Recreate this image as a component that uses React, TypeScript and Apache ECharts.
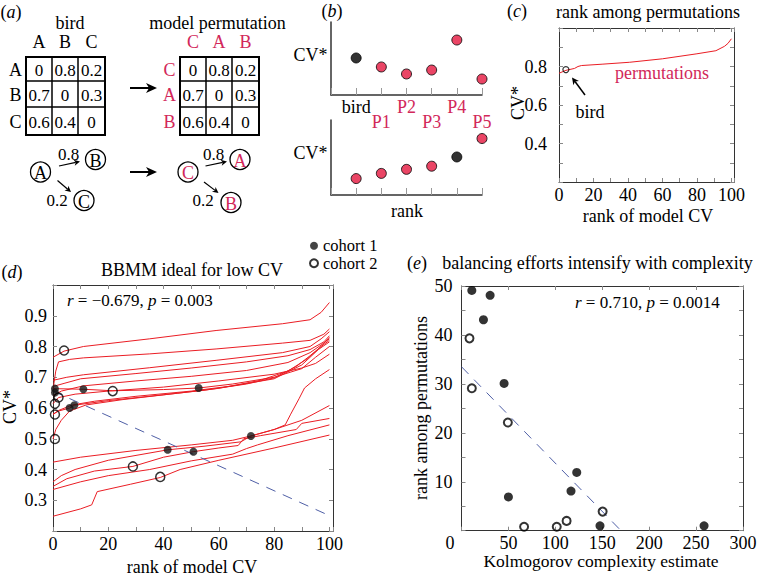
import React, { useEffect, useRef } from 'react';
import * as echarts from 'echarts';

const FONT = 'Liberation Serif';
const RED_TEXT = '#d2285a';
const RED_FILL = '#e5173f';
const RED_LINE = '#ea1d24';
const BLUE = '#4f5fa6';

// ---------- (a) ----------
const birdLabels = ['A', 'B', 'C'];
const permLabels = ['C', 'A', 'B'];
const transMatrix = [
  [0, 0.8, 0.2],
  [0.7, 0, 0.3],
  [0.6, 0.4, 0],
];
const edgeProbs = [0.8, 0.2];

// ---------- (b) ----------
const bLabels = ['bird', 'P1', 'P2', 'P3', 'P4', 'P5'];
const bCV = [5.07, 3.84, 2.88, 3.42, 7.53, 2.19];

// ---------- (c) ----------
const cPerm = [
  [0, 0.765], [4, 0.78], [9, 0.79], [11, 0.8], [13, 0.805], [25, 0.812], [41, 0.822],
  [60, 0.84], [80, 0.866], [91, 0.882], [96, 0.905], [98, 0.92], [100, 0.944],
];
const cBird = [[4, 0.784]];

// ---------- (d) ----------
const dLines = [
  [[0, 0.765], [4, 0.785], [11, 0.8], [35, 0.825], [59, 0.852], [83, 0.874], [93, 0.887], [97, 0.911], [100, 0.943]],
  [[0, 0.66], [1, 0.72], [2, 0.75], [6, 0.758], [11, 0.763], [35, 0.776], [59, 0.792], [83, 0.811], [93, 0.82], [98, 0.84], [100, 0.857]],
  [[0, 0.69], [5, 0.7], [11, 0.708], [35, 0.731], [59, 0.755], [83, 0.78], [93, 0.8], [97, 0.825], [100, 0.848]],
  [[0, 0.67], [4, 0.68], [10, 0.695], [30, 0.712], [50, 0.73], [70, 0.75], [85, 0.77], [93, 0.79], [98, 0.815], [100, 0.835]],
  [[0, 0.64], [3, 0.655], [11, 0.672], [30, 0.688], [50, 0.703], [70, 0.722], [85, 0.748], [93, 0.78], [97, 0.805], [100, 0.825]],
  [[0, 0.663], [11, 0.661], [21.6, 0.656], [40, 0.66], [52.7, 0.665], [65, 0.678], [80, 0.7], [90, 0.728], [95, 0.765], [100, 0.8]],
  [[0, 0.58], [2, 0.59], [6, 0.6], [7.7, 0.609], [20, 0.624], [40, 0.643], [55, 0.658], [70, 0.678], [80, 0.698], [88, 0.735], [93, 0.77], [97, 0.8], [100, 0.82]],
  [[0, 0.499], [1, 0.53], [3, 0.56], [6, 0.59], [12, 0.61], [25, 0.627], [45, 0.648], [60, 0.664], [75, 0.69], [85, 0.72], [92, 0.76], [97, 0.8], [100, 0.83]],
  [[0, 0.579], [2, 0.592], [7, 0.61], [15, 0.622], [30, 0.638], [50, 0.655], [65, 0.672], [80, 0.695], [90, 0.74], [96, 0.79], [100, 0.815]],
  [[0, 0.614], [2, 0.634], [8, 0.645], [20, 0.655], [40, 0.668], [60, 0.688], [80, 0.71], [90, 0.73], [95, 0.745], [100, 0.775]],
  [[0, 0.424], [10, 0.44], [30, 0.462], [50, 0.48], [65, 0.495], [72, 0.51], [80, 0.53], [84, 0.545], [86, 0.58], [89, 0.63], [91, 0.665], [95, 0.695], [100, 0.725]],
  [[0, 0.36], [3, 0.38], [8, 0.4], [20, 0.43], [41.5, 0.464], [55, 0.476], [68, 0.49], [71.6, 0.509], [80, 0.53], [90, 0.56], [100, 0.608]],
  [[0, 0.345], [5, 0.37], [15, 0.395], [28.9, 0.41], [40, 0.44], [50.8, 0.458], [60, 0.47], [67, 0.478], [69, 0.5], [75, 0.51], [88, 0.53], [90, 0.55], [100, 0.566]],
  [[0, 0.335], [10, 0.36], [20, 0.38], [35, 0.4], [50, 0.428], [65, 0.45], [70, 0.468], [74, 0.48], [85, 0.51], [100, 0.545]],
  [[0, 0.248], [10, 0.272], [14, 0.285], [16, 0.328], [28, 0.352], [38.8, 0.374], [46, 0.4], [60, 0.43], [80, 0.47], [100, 0.512]],
];
const dFit = [[0, 0.655], [100, 0.25]];
const dCohort1 = [[0.7, 0.663], [0.7, 0.65], [6, 0.6], [7.7, 0.609], [11, 0.661], [52.7, 0.665], [41.5, 0.464], [50.8, 0.458], [71.6, 0.509]];
const dCohort2 = [[4, 0.787], [2, 0.634], [0.7, 0.614], [0.7, 0.579], [0.7, 0.499], [21.6, 0.655], [28.9, 0.41], [38.8, 0.376]];

// ---------- (e) ----------
const eCohort1 = [[11, 49.1], [30.5, 48.1], [23.4, 43.1], [45.4, 30.1], [50, 6.9], [122.8, 11.9], [116.7, 8.1], [147.6, 1], [258.5, 1]];
const eCohort2 = [[8.5, 39.3], [11, 29.1], [49.4, 22.1], [66.7, 0.8], [101.5, 0.8], [112, 2], [150.4, 3.9]];
const eFit = [[0, 33.5], [170, 0]];

// ---------- helpers ----------
const italicRich = (size: number) => ({ i: { fontStyle: 'italic', fontFamily: FONT, fontSize: size, fill: '#000' } });

const txt = (text: string, x: number, y: number, o: any = {}) => ({
  type: 'text',
  x,
  y,
  rotation: o.rotation || 0,
  silent: true,
  style: {
    text,
    fontFamily: FONT,
    fontSize: o.size || 18,
    fill: o.color || '#000',
    align: o.align || 'center',
    verticalAlign: 'middle',
    rich: o.rich,
  },
});

function arrow(x1: number, y1: number, x2: number, y2: number, len: number, half: number, width: number, color = '#000') {
  const dx = x2 - x1, dy = y2 - y1;
  const L = Math.hypot(dx, dy);
  const ux = dx / L, uy = dy / L;
  const bx = x2 - ux * len, by = y2 - uy * len;
  const px = -uy, py = ux;
  const nx = x2 - ux * len * 0.72, ny = y2 - uy * len * 0.72;
  return [
    { type: 'line', silent: true, shape: { x1, y1, x2: nx, y2: ny }, style: { stroke: color, lineWidth: width } },
    {
      type: 'polygon', silent: true,
      shape: { points: [[x2, y2], [bx + px * half, by + py * half], [nx, ny], [bx - px * half, by - py * half]] },
      style: { fill: color },
    },
  ];
}

function matrix(x0: number, cols: string[], rows: string[], labelColor: string) {
  const widths = [26, 26, 27];
  const xs = [x0, x0 + widths[0], x0 + widths[0] + widths[1], x0 + widths[0] + widths[1] + widths[2]];
  const ys = [57, 81, 107, 135];
  const els: any[] = [];
  els.push({ type: 'rect', silent: true, shape: { x: xs[0], y: ys[0], width: xs[3] - xs[0], height: ys[3] - ys[0] }, style: { fill: 'none', stroke: '#000', lineWidth: 2 } });
  for (let k = 1; k < 3; k++) {
    els.push({ type: 'line', silent: true, shape: { x1: xs[k], y1: ys[0], x2: xs[k], y2: ys[3] }, style: { stroke: '#000', lineWidth: 1.5 } });
    els.push({ type: 'line', silent: true, shape: { x1: xs[0], y1: ys[k], x2: xs[3], y2: ys[k] }, style: { stroke: '#000', lineWidth: 1.5 } });
  }
  for (let c = 0; c < 3; c++) {
    const cx = (xs[c] + xs[c + 1]) / 2;
    els.push(txt(cols[c], cx, 42, { color: labelColor }));
  }
  for (let r = 0; r < 3; r++) {
    const cy = (ys[r] + ys[r + 1]) / 2 + 1;
    els.push(txt(rows[r], x0 - 10.5, cy, { color: labelColor }));
    for (let c = 0; c < 3; c++) {
      const cx = (xs[c] + xs[c + 1]) / 2;
      els.push(txt(String(transMatrix[r][c]), cx, cy, { size: 17 }));
    }
  }
  return els;
}

function node(label: string, cx: number, cy: number, color: string) {
  return [
    { type: 'circle', silent: true, shape: { cx, cy, r: 10 }, style: { fill: 'none', stroke: '#000', lineWidth: 1.3 } },
    txt(label, cx, cy + 1, { color }),
  ];
}

const axisText = { fontFamily: FONT, fontSize: 18, color: '#000' };
const frame = (show = true) => ({ show, onZero: false, lineStyle: { color: '#333', width: 1 } });
const tickIn = (len = 4) => ({ show: true, inside: true, length: len, lineStyle: { color: '#888', width: 1 } });
const noSplit = { show: false };

function mirrorX(gridIndex: number, min: number, max: number, interval: number) {
  return { gridIndex, type: 'value', position: 'top', min, max, interval, axisLine: frame(), axisTick: tickIn(), axisLabel: { show: false }, splitLine: noSplit };
}
function mirrorY(gridIndex: number, min: number, max: number, interval: number) {
  return { gridIndex, type: 'value', position: 'right', min, max, interval, axisLine: frame(), axisTick: tickIn(), axisLabel: { show: false }, splitLine: noSplit };
}

export default function App() {
  const ref = useRef<HTMLDivElement>(null);

  useEffect(() => {
    if (!ref.current) return;
    const chart = echarts.init(ref.current, undefined, { renderer: 'svg' });

    const bOrder = bCV.map((_, i) => i).sort((a, b) => bCV[a] - bCV[b]);

    const bLabelFormatter = (even: boolean) => (v: number) => {
      const i = Math.round(v) - 1;
      if (i < 0 || i > 5 || Math.abs(v - Math.round(v)) > 1e-6) return '';
      if ((i % 2 === 0) !== even) return '';
      return i === 0 ? `{k|${bLabels[i]}}` : `{r|${bLabels[i]}}`;
    };
    const bRich = {
      k: { color: '#000', fontFamily: FONT, fontSize: 18, lineHeight: 18 },
      r: { color: RED_TEXT, fontFamily: FONT, fontSize: 18, lineHeight: 18 },
    };

    const graphic: any[] = [
      // panel labels
      txt('({i|a})', 11, 12, { rich: italicRich(18) }),
      txt('({i|b})', 332, 11, { rich: italicRich(18) }),
      txt('({i|c})', 517, 11, { rich: italicRich(18) }),
      txt('({i|d})', 12, 272, { rich: italicRich(18) }),
      txt('({i|e})', 417, 263, { rich: italicRich(18) }),
      // (a)
      txt('bird', 70, 23),
      txt('model permutation', 217.5, 23),
      ...matrix(26, birdLabels, birdLabels, '#000'),
      ...matrix(180, permLabels, permLabels, RED_TEXT),
      ...arrow(130, 88, 157, 88, 11, 5, 2),
      ...arrow(130, 172, 157, 172, 11, 5, 2),
      ...node('A', 40.5, 172, '#000'),
      ...node('B', 95.5, 159.5, '#000'),
      ...node('C', 84, 200.5, '#000'),
      txt(String(edgeProbs[0]), 68.5, 154, { size: 17 }),
      txt(String(edgeProbs[1]), 57, 200, { size: 17 }),
      ...arrow(59, 166, 80, 161.5, 6, 3, 1.2),
      ...arrow(57.5, 180.5, 71, 192, 6, 3, 1.2),
      ...node('C', 188, 172, RED_TEXT),
      ...node('A', 240, 159.5, RED_TEXT),
      ...node('B', 231, 202.5, RED_TEXT),
      txt(String(edgeProbs[0]), 213.5, 154, { size: 17 }),
      txt(String(edgeProbs[1]), 203, 200, { size: 17 }),
      ...arrow(205.5, 166, 227, 161.5, 6, 3, 1.2),
      ...arrow(204, 182, 218.5, 193, 6, 3, 1.2),
      // (b)
      txt('CV*', 310.5, 55),
      txt('CV*', 310.5, 153),
      txt('rank', 407, 210.5),
      // (c)
      txt('rank among permutations', 648, 12),
      txt('CV*', 518, 103, { rotation: Math.PI / 2 }),
      txt('rank of model CV', 648, 215.5),
      txt('permutations', 662, 73, { color: RED_TEXT }),
      txt('bird', 590, 112),
      ...arrow(585, 95, 572, 77.5, 7, 3.5, 1.5),
      // (d)
      txt('BBMM ideal for low CV', 192, 269.5),
      txt('CV*', 10, 407, { rotation: Math.PI / 2 }),
      txt('rank of model CV', 192, 566.5),
      txt('{i|r} = \u22120.679, {i|p} = 0.003', 67, 300.5, { align: 'left', size: 17, rich: italicRich(17) }),
      // (e)
      txt('balancing efforts intensify with complexity', 597.5, 262.5),
      txt('rank among permutations', 421, 408, { rotation: Math.PI / 2 }),
      txt('Kolmogorov complexity estimate', 601, 561, { size: 17.5 }),
      txt('{i|r} = 0.710, {i|p} = 0.0014', 575, 302, { align: 'left', size: 17, rich: italicRich(17) }),
      txt('0', 450, 542.5),
    ];

    const option: any = {
      animation: false,
      backgroundColor: '#fff',
      textStyle: { fontFamily: FONT },
      legend: {
        data: ['cohort 1', 'cohort 2'],
        orient: 'vertical',
        left: 309,
        top: 237,
        padding: 0,
        itemGap: 0,
        itemWidth: 8,
        itemHeight: 8,
        icon: 'circle',
        selectedMode: false,
        textStyle: { fontFamily: FONT, fontSize: 16.5, lineHeight: 17.5, color: '#000' },
      },
      grid: [
        { left: 331, top: 22, width: 151, height: 73, outerBoundsMode: 'none' },
        { left: 331, top: 120, width: 151, height: 75, outerBoundsMode: 'none' },
        { left: 559, top: 28, width: 175, height: 154, outerBoundsMode: 'none' },
        { left: 53, top: 285, width: 280, height: 246, outerBoundsMode: 'none' },
        { left: 461.5, top: 286, width: 281.5, height: 244.7, outerBoundsMode: 'none' },
      ],
      xAxis: [
        // b upper (labels bird, P2, P4)
        {
          gridIndex: 0, type: 'value', position: 'bottom', min: 0, max: 6, interval: 1,
          axisLine: { show: true, onZero: false, lineStyle: { color: '#333', width: 1.5 } },
          axisTick: { show: true, inside: true, length: 7, lineStyle: { color: '#999', width: 1 } },
          axisLabel: { margin: 3, formatter: bLabelFormatter(true), rich: bRich, showMaxLabel: true, showMinLabel: true },
          splitLine: noSplit,
        },
        // b upper second label row (P1, P3, P5)
        {
          gridIndex: 0, type: 'value', position: 'bottom', min: 0, max: 6, interval: 1,
          axisLine: { show: false, onZero: false }, axisTick: { show: false },
          axisLabel: { margin: 18, formatter: bLabelFormatter(false), rich: bRich, showMaxLabel: true, showMinLabel: true },
          splitLine: noSplit,
        },
        // b lower
        {
          gridIndex: 1, type: 'value', position: 'bottom', min: 0, max: 6, interval: 1,
          axisLine: { show: true, onZero: false, lineStyle: { color: '#333', width: 1.5 } },
          axisTick: { show: true, inside: true, length: 7, lineStyle: { color: '#999', width: 1 } },
          axisLabel: { show: false }, splitLine: noSplit,
        },
        // c
        {
          gridIndex: 2, type: 'value', position: 'bottom', min: 0, max: 101.5, interval: 10,
          axisLine: frame(), axisTick: tickIn(),
          axisLabel: { ...axisText, margin: 4, formatter: (v: number) => (v % 20 === 0 && v <= 100 ? String(v) : '') },
          splitLine: noSplit,
        },
        mirrorX(2, 0, 101.5, 10),
        // d
        {
          gridIndex: 3, type: 'value', position: 'bottom', min: 0, max: 101.3, interval: 10,
          axisLine: frame(), axisTick: tickIn(),
          axisLabel: { ...axisText, margin: 4, formatter: (v: number) => (v % 20 === 0 && v <= 100 ? String(v) : '') },
          splitLine: noSplit,
        },
        mirrorX(3, 0, 101.3, 10),
        // e
        {
          gridIndex: 4, type: 'value', position: 'bottom', min: 0, max: 300, interval: 50,
          axisLine: frame(), axisTick: tickIn(),
          axisLabel: { ...axisText, margin: 3, formatter: (v: number) => (v === 0 ? '' : String(v)) },
          splitLine: noSplit,
        },
        mirrorX(4, 0, 300, 50),
      ],
      yAxis: [
        {
          gridIndex: 0, type: 'value', position: 'left', min: 0, max: 10,
          axisLine: { show: true, onZero: false, lineStyle: { color: '#333', width: 1.5 } },
          axisTick: { show: false }, axisLabel: { show: false }, splitLine: noSplit,
        },
        {
          gridIndex: 1, type: 'value', position: 'left', min: 0, max: 10,
          axisLine: { show: true, onZero: false, lineStyle: { color: '#333', width: 1.5 } },
          axisTick: { show: false }, axisLabel: { show: false }, splitLine: noSplit,
        },
        // c
        {
          gridIndex: 2, type: 'value', position: 'left', min: 0.2, max: 1.0, interval: 0.1,
          axisLine: frame(), axisTick: tickIn(),
          axisLabel: {
            ...axisText, margin: 12,
            formatter: (v: number) => {
              const k = Math.round(v * 10);
              return Math.abs(v * 10 - k) < 1e-6 && (k === 4 || k === 6 || k === 8) ? (k / 10).toFixed(1) : '';
            },
          },
          splitLine: noSplit,
        },
        mirrorY(2, 0.2, 1.0, 0.1),
        // d
        {
          gridIndex: 3, type: 'value', position: 'left', min: 0.2, max: 1.0, interval: 0.1,
          axisLine: frame(), axisTick: tickIn(),
          axisLabel: {
            ...axisText, margin: 6,
            formatter: (v: number) => {
              const k = Math.round(v * 10);
              return Math.abs(v * 10 - k) < 1e-6 && k >= 3 && k <= 9 ? (k / 10).toFixed(1) : '';
            },
          },
          splitLine: noSplit,
        },
        mirrorY(3, 0.2, 1.0, 0.1),
        // e
        {
          gridIndex: 4, type: 'value', position: 'left', min: 0, max: 50, interval: 5,
          axisLine: frame(), axisTick: tickIn(),
          axisLabel: { ...axisText, margin: 9, formatter: (v: number) => (v > 0 && v % 10 === 0 ? String(v) : '') },
          splitLine: noSplit,
        },
        mirrorY(4, 0, 50, 5),
      ],
      series: [
        // b upper
        {
          type: 'scatter', xAxisIndex: 0, yAxisIndex: 0, symbolSize: 10,
          itemStyle: { borderColor: '#000', borderWidth: 1 },
          data: bCV.map((v, i) => ({ value: [i + 1, v], itemStyle: { color: i === 0 ? '#000' : RED_FILL } })),
        },
        // b lower (sorted)
        {
          type: 'scatter', xAxisIndex: 2, yAxisIndex: 1, symbolSize: 10,
          itemStyle: { borderColor: '#000', borderWidth: 1 },
          data: bOrder.map((idx, r) => ({ value: [r + 1, bCV[idx]], itemStyle: { color: idx === 0 ? '#000' : RED_FILL } })),
        },
        // c
        {
          type: 'line', xAxisIndex: 3, yAxisIndex: 2, data: cPerm, showSymbol: false,
          lineStyle: { color: RED_LINE, width: 1 }, z: 2,
        },
        {
          type: 'scatter', xAxisIndex: 3, yAxisIndex: 2, data: cBird, symbolSize: 6,
          itemStyle: { color: 'rgba(0,0,0,0)', borderColor: '#000', borderWidth: 1.2 }, z: 3,
        },
        // d lines
        ...dLines.map((pts, i) => ({
          name: 'dline' + i, type: 'line', xAxisIndex: 5, yAxisIndex: 4, data: pts, showSymbol: false,
          lineStyle: { color: RED_LINE, width: 1 }, z: 2,
        })),
        {
          type: 'line', xAxisIndex: 5, yAxisIndex: 4, data: dFit, showSymbol: false,
          lineStyle: { color: BLUE, width: 1, type: [10, 8] }, z: 3,
        },
        {
          name: 'cohort 1', type: 'scatter', xAxisIndex: 5, yAxisIndex: 4, data: dCohort1, symbolSize: 8,
          itemStyle: { color: '#151515' }, z: 4,
        },
        {
          name: 'cohort 2', type: 'scatter', xAxisIndex: 5, yAxisIndex: 4, data: dCohort2, symbolSize: 9,
          itemStyle: { color: 'rgba(0,0,0,0)', borderColor: '#000', borderWidth: 1.5 }, z: 4,
        },
        // e
        {
          type: 'line', xAxisIndex: 7, yAxisIndex: 6, data: eFit, showSymbol: false,
          lineStyle: { color: BLUE, width: 1, type: [10, 8] }, z: 3,
        },
        {
          name: 'cohort 1', type: 'scatter', xAxisIndex: 7, yAxisIndex: 6, data: eCohort1, symbolSize: 9,
          itemStyle: { color: '#000' }, z: 4,
        },
        {
          name: 'cohort 2', type: 'scatter', xAxisIndex: 7, yAxisIndex: 6, data: eCohort2, symbolSize: 8,
          itemStyle: { color: 'rgba(0,0,0,0)', borderColor: '#000', borderWidth: 2 }, z: 4,
        },
      ],
      graphic,
    };

    chart.setOption(option);
    return () => chart.dispose();
  }, []);

  return (
    <div
      ref={ref}
      style={{ position: 'fixed', left: 0, top: 0, width: 763, height: 575, background: '#fff' }}
    />
  );
}
